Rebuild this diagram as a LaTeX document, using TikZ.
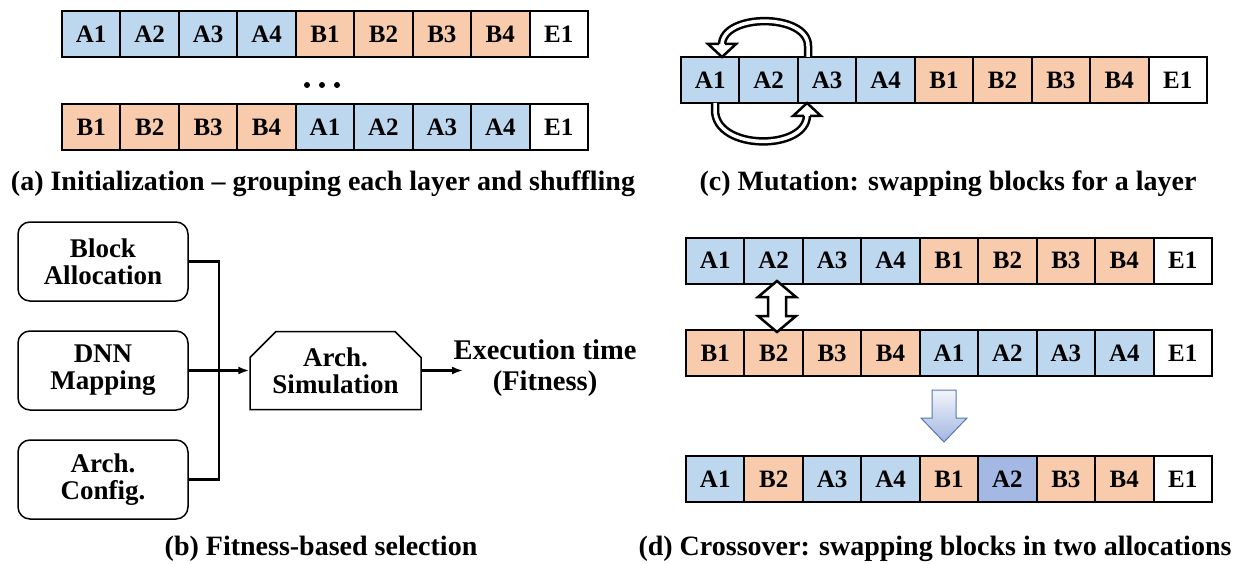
\documentclass[tikz,border=0pt]{standalone}
\usepackage{fontspec}
\setmainfont{Liberation Serif}
\usetikzlibrary{shapes.misc,arrows.meta,calc}
\definecolor{blk}{HTML}{BDD7EE}
\definecolor{org}{HTML}{F8CBAD}
\definecolor{swp}{HTML}{A3B8E2}
\definecolor{dntop}{HTML}{F2F5FB}
\definecolor{dnbot}{HTML}{A2B6E0}
\definecolor{dnline}{HTML}{5676B5}
\newcommand\cellrow[4]{%
  \foreach \lab/\col [count=\i] in {#4}
    \node[cell,fill=\col] (#1\i) at ({#2+(\i-0.5)*58.44},#3) {\lab};}
\begin{document}
\begin{tikzpicture}[x=1pt,y=-1pt,
  cell/.style={draw,line width=2pt,minimum width=58.44pt,minimum height=46pt,
    inner sep=0pt,font=\fontsize{25}{25}\selectfont\bfseries},
  caption/.style={font=\fontsize{28}{28}\selectfont\bfseries,inner sep=0pt},
  rbox/.style={draw,line width=1.5pt,rounded corners=12pt,minimum width=170pt,
    minimum height=79pt,align=center,inner sep=0pt,
    font=\fontsize{27}{27}\selectfont\bfseries},
  simbox/.style={draw,line width=1.5pt,chamfered rectangle,
    chamfered rectangle corners={north west,north east},
    chamfered rectangle xsep=13pt,chamfered rectangle ysep=13pt,
    minimum width=171pt,minimum height=78pt,align=center,inner sep=0pt,
    font=\fontsize{27}{27}\selectfont\bfseries},
  conn/.style={line width=2.5pt},
  tip/.style={-{Latex[length=11pt,width=8pt]}},
  hollow/.style={double=white,double distance=3.5pt,line width=2.5pt},
  headbox/.style={fill=white,line width=2.5pt,line join=miter},
  dot/.style={circle,fill=black,inner sep=0pt,minimum size=6pt}]
\useasboundingbox (0,0) rectangle (1249,564);

% (a) initial allocations
\cellrow{ia}{62}{34.5}{A1/blk,A2/blk,A3/blk,A4/blk,B1/org,B2/org,B3/org,B4/org,E1/white}
\node[dot] (d1) at (307,85) {};
\node[dot] (d2) at (322,85) {};
\node[dot] (d3) at (337,85) {};
\cellrow{ib}{62}{127.5}{B1/org,B2/org,B3/org,B4/org,A1/blk,A2/blk,A3/blk,A4/blk,E1/white}
\node[caption] (capa) at (323,184) {(a) Initialization – grouping each layer and shuffling};

% (c) mutation
\cellrow{m}{681}{80}{A1/blk,A2/blk,A3/blk,A4/blk,B1/org,B2/org,B3/org,B4/org,E1/white}
\coordinate (mu1) at (808,57);
\coordinate (mu2) at (722,57);
\draw[hollow] (mu1) -- (808,46) .. controls (808,13) and (722,13) .. (722,45);
\filldraw[headbox] (719,44) -- (708,44) -- (mu2) -- (736,44) -- (725,44);
\coordinate (ml1) at (715,103);
\coordinate (ml2) at (807,103);
\draw[hollow] (ml1) -- (715,110) .. controls (715,151) and (807,151) .. (807,115);
\filldraw[headbox] (804,116) -- (793,116) -- (ml2) -- (821,116) -- (810,116);
\node[caption] (capc) at (948,184) {(c) Mutation: swapping blocks for a layer};

% (b) fitness evaluation
\node[rbox] (alloc) at (103,261.5) {Block\\Allocation};
\node[rbox] (map) at (103,370.5) {DNN\\Mapping};
\node[rbox] (cfg) at (103,479.5) {Arch.\\Config.};
\node[simbox] (sim) at (335.5,370.5) {Arch.\\Simulation};
\coordinate (bus) at (219,370.5);
\draw[conn] (alloc.east) -| (bus);
\draw[conn] (cfg.east) -| (bus);
\draw[conn,tip] (map.east) -- (sim.west);
\node[align=center,inner sep=0pt,font=\fontsize{28.5}{31}\selectfont\bfseries] (exec) at (545,368.5) {Execution time\\(Fitness)};
\coordinate (fit) at (463,370.5);
\draw[conn,tip] (sim.east) -- (fit);
\node[caption] (capb) at (321,549) {(b) Fitness-based selection};

% (d) crossover
\cellrow{xa}{686}{260.5}{A1/blk,A2/blk,A3/blk,A4/blk,B1/org,B2/org,B3/org,B4/org,E1/white}
\cellrow{xb}{686}{353}{B1/org,B2/org,B3/org,B4/org,A1/blk,A2/blk,A3/blk,A4/blk,E1/white}
\cellrow{xc}{686}{479}{A1/blk,B2/org,A3/blk,A4/blk,B1/org,A2/swp,B3/org,B4/org,E1/white}
\draw[line width=2.5pt,fill=white,line join=miter]
  (777,281) -- (796,297) -- (786,297) -- (786,316) -- (796,316) -- (777,332)
  -- (758,316) -- (768,316) -- (768,297) -- (758,297) -- cycle;
\draw[dnline,line width=1pt,top color=dntop,bottom color=dnbot]
  (932,390) -- (956,390) -- (956,418) -- (967,418) -- (944,442)
  -- (921,418) -- (932,418) -- cycle;
\node[caption] (capd) at (935,549) {(d) Crossover: swapping blocks in two allocations};
\end{tikzpicture}
\end{document}
